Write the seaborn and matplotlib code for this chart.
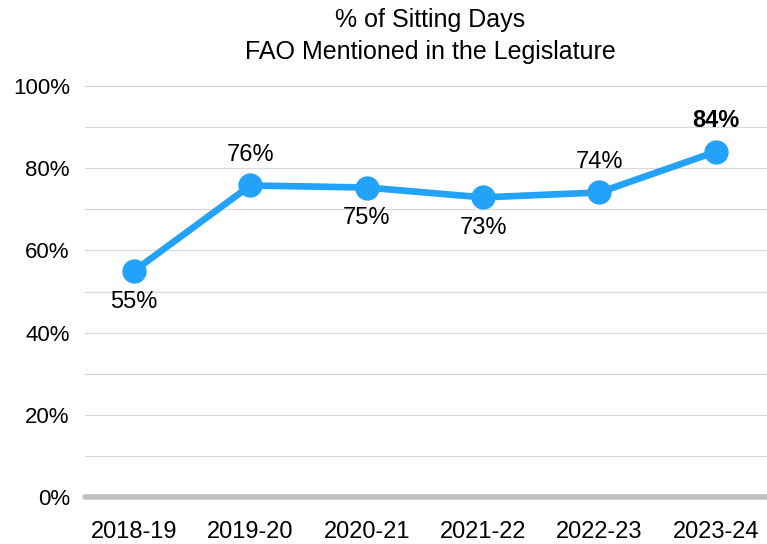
import pandas as pd
import matplotlib
matplotlib.use("Agg")
import matplotlib.pyplot as plt
import seaborn as sns

years = ["2018-19", "2019-20", "2020-21", "2021-22", "2022-23", "2023-24"]
pct = [55.0, 75.8, 75.3, 72.9, 74.1, 84.0]
labels = ["55%", "76%", "75%", "73%", "74%", "84%"]
label_above = [False, True, False, False, True, True]

df = pd.DataFrame({"year": years, "pct": pct})

sns.set_style("white")
plt.rcParams["font.family"] = ["Liberation Sans", "DejaVu Sans"]
plt.rcParams["text.color"] = "black"

fig = plt.figure(figsize=(7.67, 5.44), dpi=100)
ax = fig.add_axes([0.111, 0.0864, 0.889, 0.7555])

# gridlines every 10%
for g in range(10, 101, 10):
    ax.axhline(g, color="#d9d9d9", lw=0.9, zorder=0)
ax.axhline(0, color="#bfbfbf", lw=4, solid_capstyle="round", zorder=1, clip_on=False)

line_color = "#22a3f9"
sns.lineplot(data=df, x="year", y="pct", ax=ax, color=line_color, lw=4.8,
             marker="o", markersize=17.5, markeredgewidth=0, sort=False, zorder=3)
for ln in ax.lines:
    ln.set_clip_on(False)

for i, (v, lab, up) in enumerate(zip(pct, labels, label_above)):
    off = 7.5 if up else -7.5
    ax.text(i, v + off, lab, ha="center", va="center", fontsize=17,
            fontweight="bold" if i == len(pct) - 1 else "normal", color="black")

ax.set_ylim(0, 100)
ax.set_xlim(-0.42, 5.44)
ax.set_yticks(range(0, 101, 20))
ax.set_yticklabels([f"{t}%" for t in range(0, 101, 20)], fontsize=16, color="black")
ax.tick_params(axis="y", pad=11, length=0)
ax.tick_params(axis="x", pad=17, length=0, labelsize=17, labelcolor="black")
ax.set_xlabel("")
ax.set_ylabel("")
sns.despine(ax=ax, left=True, bottom=True, top=True, right=True)

fig.text(0.561, 0.963, "% of Sitting Days", ha="center", va="center", fontsize=18)
fig.text(0.561, 0.904, "FAO Mentioned in the Legislature", ha="center", va="center", fontsize=18)

fig.savefig("out.png", dpi=100)
